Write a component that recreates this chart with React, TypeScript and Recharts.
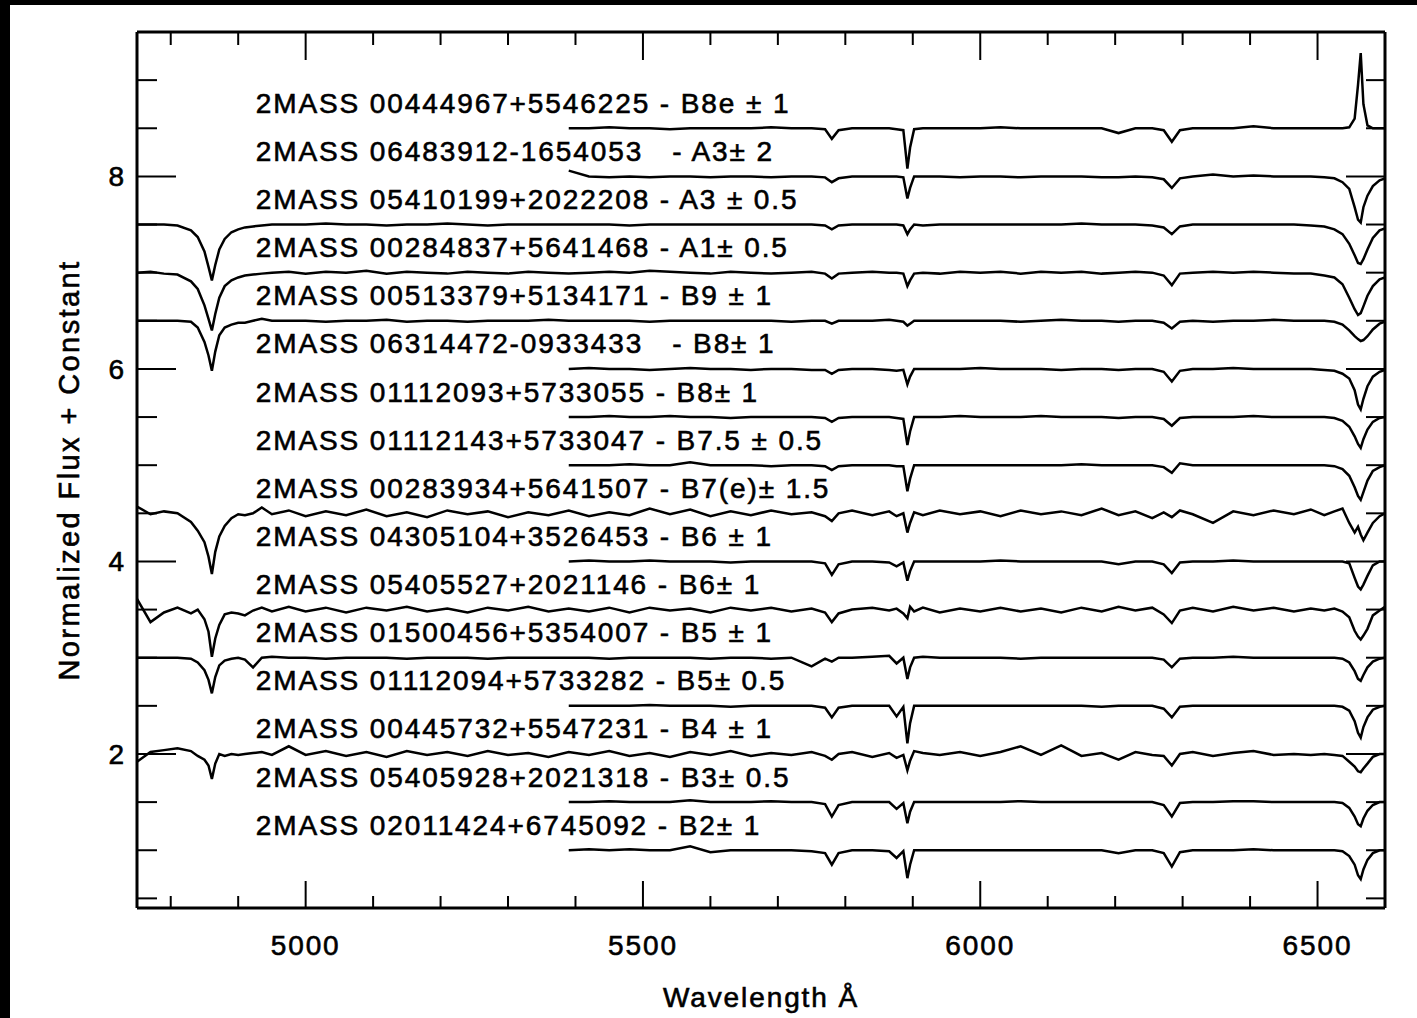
import { ComposedChart, Line, Scatter, XAxis, YAxis } from "recharts";
import { ReactElement } from "react";

// wavelength grid (Angstrom), denser around H-beta, Na D and H-alpha
const wavelengths = [
  4750, 4770, 4790, 4810, 4830, 4840, 4850, 4856, 4861, 4866,
  4872, 4880, 4890, 4900, 4910, 4922, 4935, 4950, 4975, 5000,
  5030, 5060, 5090, 5120, 5150, 5180, 5210, 5240, 5270, 5300,
  5330, 5360, 5390, 5420, 5450, 5480, 5510, 5540, 5570, 5600,
  5630, 5660, 5690, 5720, 5750, 5770, 5780, 5790, 5810, 5840,
  5865, 5876, 5886, 5892, 5896, 5902, 5915, 5940, 5970, 6000,
  6030, 6060, 6090, 6120, 6150, 6180, 6205, 6230, 6255, 6272,
  6284, 6296, 6315, 6345, 6375, 6405, 6435, 6465, 6490, 6510,
  6525, 6537, 6547, 6555, 6560, 6564, 6568, 6574, 6582, 6592,
  6600,
];

// normalized flux; short arrays start at 5390 A
const fluxB8e = [
  1.0, 1.0, 1.01, 1.0, 1.0, 0.99, 1.0, 1.0,
  1.0, 1.0, 1.01, 1.0, 1.0, 0.99, 0.89, 0.98, 1.0, 1.0,
  1.0, 0.99, 0.98, 0.58, 0.8, 0.99, 1.0, 1.0, 1.0, 1.0,
  1.01, 1.0, 1.0, 1.0, 1.0, 1.0, 0.95, 1.0, 1.0, 0.98,
  0.86, 0.98, 1.0, 1.0, 1.0, 1.02, 1.0, 1.0, 1.0, 1.0,
  1.0, 1.0, 1.01, 1.1, 1.45, 1.78, 1.25, 1.03, 1.0, 1.0,
  1.0,
];
const fluxA3a = [
  1.06, 1.0, 0.99, 1.0, 0.99, 1.0, 1.0, 0.99,
  1.0, 1.0, 0.99, 1.0, 1.0, 0.99, 0.94, 0.98, 1.0, 1.0,
  1.0, 1.0, 0.99, 0.77, 0.88, 1.0, 1.0, 1.0, 0.99, 1.0,
  1.0, 0.99, 1.0, 1.0, 1.0, 0.99, 0.99, 1.0, 0.99, 0.97,
  0.88, 0.98, 1.0, 1.02, 1.0, 1.01, 1.0, 1.0, 1.0, 0.99,
  0.98, 0.94, 0.87, 0.68, 0.55, 0.52, 0.68, 0.8, 0.9, 0.96,
  0.98,
];
const fluxA3b = [
  1.0, 1.0, 1.0, 0.99, 0.94, 0.87, 0.72, 0.56, 0.42, 0.58,
  0.74, 0.85, 0.92, 0.95, 0.97, 0.98, 0.99, 1.0, 1.0, 1.0,
  1.01, 1.0, 1.0, 0.99, 1.0, 1.0, 1.01, 1.0, 0.99, 1.0,
  1.0, 1.0, 1.0, 1.0, 1.0, 0.99, 1.0, 1.0, 1.0, 1.0,
  1.0, 1.0, 1.0, 1.0, 1.0, 0.99, 0.95, 0.99, 1.0, 1.0,
  1.0, 1.0, 0.99, 0.9, 0.95, 1.0, 0.99, 1.0, 1.0, 1.0,
  1.0, 1.0, 1.0, 1.0, 1.01, 1.0, 1.0, 1.0, 0.99, 0.97,
  0.9, 0.98, 1.0, 1.0, 1.0, 1.0, 1.0, 1.0, 0.99, 0.98,
  0.95, 0.9, 0.8, 0.68, 0.6, 0.59, 0.64, 0.74, 0.86, 0.94,
  0.96,
];
const fluxA1 = [
  1.0, 1.01, 0.99, 0.98, 0.91, 0.83, 0.66, 0.52, 0.4, 0.57,
  0.74, 0.86, 0.92, 0.95, 0.97, 0.98, 0.99, 1.0, 1.01, 0.99,
  1.01, 1.0, 1.02, 0.99, 1.01, 1.0, 0.99, 1.01, 1.0, 0.99,
  1.01, 1.0, 0.99, 1.0, 1.01, 1.0, 1.02, 1.01, 1.0, 0.99,
  1.01, 1.0, 0.99, 1.0, 1.01, 0.99, 0.94, 0.99, 1.0, 1.01,
  1.0, 1.0, 0.99, 0.86, 0.92, 0.99, 1.0, 0.99, 1.01, 1.0,
  1.01, 0.99, 1.01, 1.0, 1.01, 0.99, 1.0, 1.01, 1.0, 0.97,
  0.87, 0.99, 1.0, 1.01, 1.0, 1.01, 1.0, 0.99, 0.99, 0.97,
  0.95, 0.88, 0.74, 0.62, 0.56, 0.58, 0.65, 0.76, 0.86, 0.93,
  0.95,
];
const fluxB9 = [
  1.0, 1.0, 1.0, 1.0, 0.99, 0.93, 0.78, 0.64, 0.48, 0.68,
  0.85, 0.93, 0.96, 0.98, 0.98, 1.0, 1.02, 1.0, 1.0, 1.0,
  0.99, 1.0, 1.0, 1.01, 0.99, 1.0, 1.0, 0.99, 1.0, 1.0,
  1.0, 1.01, 1.0, 1.0, 1.0, 1.0, 0.99, 1.0, 1.0, 1.0,
  1.0, 1.0, 1.0, 0.99, 1.0, 1.0, 0.97, 1.0, 1.0, 1.0,
  1.01, 1.0, 0.99, 0.95, 0.97, 1.0, 1.0, 1.0, 1.0, 1.0,
  1.0, 0.99, 1.0, 1.01, 1.0, 1.0, 0.99, 1.0, 1.0, 0.98,
  0.92, 0.99, 1.0, 0.99, 1.0, 1.0, 1.01, 1.0, 1.0, 1.0,
  0.99, 0.96, 0.9, 0.84, 0.81, 0.79, 0.8, 0.84, 0.91, 0.97,
  0.99,
];
const fluxB8a = [
  1.0, 1.01, 1.0, 1.0, 0.99, 1.0, 1.01, 1.0,
  1.0, 0.99, 1.0, 1.0, 0.99, 0.99, 0.95, 0.99, 1.0, 1.0,
  0.99, 0.98, 0.99, 0.84, 0.92, 1.0, 1.0, 1.0, 1.0, 1.01,
  1.0, 1.0, 1.0, 0.99, 1.0, 1.0, 0.99, 1.0, 1.0, 0.97,
  0.87, 0.98, 1.0, 1.0, 1.01, 1.0, 1.0, 1.0, 1.0, 0.99,
  0.98, 0.95, 0.9, 0.78, 0.63, 0.58, 0.69, 0.82, 0.92, 0.97,
  0.99,
];
const fluxB8b = [
  1.0, 1.0, 1.01, 1.0, 1.0, 1.01, 1.0, 1.0,
  0.99, 1.0, 1.0, 1.0, 1.0, 0.99, 0.95, 0.99, 1.0, 1.0,
  1.0, 0.99, 0.98, 0.71, 0.85, 1.0, 1.0, 1.0, 1.01, 1.0,
  1.0, 1.0, 1.01, 1.0, 1.0, 1.0, 0.99, 1.0, 1.0, 0.98,
  0.91, 0.99, 1.0, 1.0, 1.0, 1.01, 1.0, 1.0, 1.0, 1.0,
  0.99, 0.96, 0.9, 0.8, 0.72, 0.68, 0.77, 0.87, 0.95, 0.99,
  1.0,
];
const fluxB75 = [
  1.0, 1.0, 1.0, 1.01, 1.0, 1.0, 1.03, 1.0,
  1.0, 1.0, 0.99, 1.0, 1.0, 0.99, 0.95, 0.99, 1.0, 1.0,
  1.0, 0.99, 0.99, 0.73, 0.86, 1.0, 1.0, 1.0, 1.0, 1.0,
  1.0, 1.0, 1.0, 1.0, 1.01, 1.0, 1.0, 1.0, 1.0, 0.98,
  0.92, 1.02, 1.0, 1.0, 1.0, 1.0, 1.0, 1.0, 1.0, 1.0,
  0.99, 0.96, 0.89, 0.77, 0.68, 0.64, 0.72, 0.84, 0.94, 0.98,
  1.0,
];
const fluxB7e = [
  1.07, 0.99, 1.02, 1.0, 0.91, 0.82, 0.7, 0.55, 0.37, 0.6,
  0.76, 0.87, 0.95, 0.99, 0.98, 1.0, 1.06, 0.99, 1.03, 0.97,
  1.02, 0.98, 1.04, 0.97, 1.01, 0.96, 1.03, 0.99, 1.02, 0.96,
  1.01, 0.98, 1.03, 0.97, 1.01, 0.98, 1.05, 0.99, 1.04, 0.97,
  1.02, 0.98, 1.03, 0.99, 1.01, 0.97, 0.92, 1.0, 1.03, 0.98,
  1.02, 0.97, 1.0, 0.8, 0.9, 1.01, 0.98, 1.03, 0.99, 1.02,
  0.97, 1.03, 0.99, 1.02, 0.98, 1.05, 0.98, 1.02, 0.95, 1.01,
  0.96, 1.03, 0.99, 0.9, 1.02, 0.98, 1.03, 0.99, 1.04, 0.98,
  1.02, 1.05, 0.9, 0.8, 0.86, 0.78, 0.72, 0.8, 0.9, 0.97,
  1.0,
];
const fluxB6a = [
  1.0, 1.01, 1.0, 1.0, 1.01, 1.0, 1.0, 1.0,
  0.99, 1.0, 1.0, 1.0, 1.0, 0.98, 0.86, 0.97, 1.0, 1.0,
  0.99, 0.95, 0.99, 0.8, 0.9, 1.0, 1.0, 1.0, 1.0, 1.0,
  1.01, 1.0, 1.0, 1.0, 1.0, 1.0, 0.97, 1.0, 1.0, 0.97,
  0.88, 0.99, 1.0, 1.0, 1.01, 1.0, 1.0, 1.0, 1.0, 1.0,
  1.0, 1.0, 0.98, 0.83, 0.74, 0.71, 0.76, 0.85, 0.96, 1.0,
  1.0,
];
const fluxB6b = [
  1.11, 0.87, 0.97, 1.02, 0.96, 1.0, 0.9, 0.77, 0.51, 0.7,
  0.84, 0.95, 0.97, 0.96, 0.94, 0.99, 1.02, 0.98, 1.03, 0.98,
  1.02, 0.97, 1.02, 0.99, 1.03, 0.98, 1.01, 0.97, 1.02, 0.99,
  1.03, 0.98, 1.01, 0.98, 1.02, 0.97, 1.02, 0.99, 1.01, 0.97,
  1.02, 0.99, 1.02, 0.98, 1.01, 0.97, 0.87, 0.96, 1.0, 1.02,
  0.99, 1.01, 0.96, 0.91, 1.03, 0.98, 1.02, 0.97, 1.01, 0.98,
  1.02, 0.98, 1.01, 0.97, 1.02, 0.98, 1.03, 0.99, 1.02, 0.95,
  0.86, 0.99, 1.02, 0.98, 1.03, 0.99, 1.02, 0.98, 1.01, 0.99,
  1.01, 0.98, 0.92, 0.78, 0.72, 0.69, 0.73, 0.8, 0.94, 0.99,
  1.03,
];
const fluxB5a = [
  1.0, 1.0, 1.0, 1.0, 0.99, 0.95, 0.87, 0.77, 0.63, 0.8,
  0.92, 0.97, 0.99, 1.0, 0.98, 0.9, 1.0, 1.01, 1.0, 1.0,
  0.99, 1.0, 1.0, 1.0, 0.99, 1.0, 1.0, 1.0, 0.99, 1.0,
  1.0, 1.0, 1.0, 1.0, 0.99, 1.0, 1.0, 1.0, 1.0, 0.99,
  1.0, 1.0, 0.99, 1.0, 0.91, 0.99, 0.96, 1.0, 1.0, 1.01,
  1.02, 0.94, 1.0, 0.78, 0.9, 1.0, 1.01, 1.0, 1.0, 1.0,
  1.0, 0.99, 1.0, 1.0, 1.0, 1.0, 1.0, 1.0, 1.0, 0.98,
  0.9, 0.99, 1.0, 1.0, 1.01, 1.0, 1.0, 1.0, 1.0, 1.0,
  1.0, 0.99, 0.95, 0.86, 0.78, 0.76, 0.82, 0.9, 0.96, 0.99,
  1.0,
];
const fluxB5b = [
  1.0, 1.0, 1.0, 1.0, 1.01, 1.0, 1.0, 1.0,
  0.99, 1.0, 1.0, 1.0, 1.0, 0.98, 0.88, 0.98, 1.0, 1.0,
  1.0, 0.89, 0.99, 0.61, 0.82, 1.0, 1.0, 1.0, 1.0, 1.0,
  1.0, 1.0, 1.0, 1.0, 1.0, 0.99, 1.0, 1.0, 1.0, 0.97,
  0.88, 0.99, 1.0, 1.0, 1.0, 1.0, 1.0, 1.0, 1.0, 1.0,
  1.0, 0.99, 0.95, 0.84, 0.72, 0.67, 0.78, 0.88, 0.96, 0.99,
  1.0,
];
const fluxB4 = [
  0.92, 1.02, 1.04, 1.06, 1.03, 0.98, 0.94, 0.88, 0.74, 0.9,
  1.0, 0.98, 1.0, 0.99, 1.0, 1.01, 1.02, 0.99, 1.08, 0.99,
  1.03, 0.98, 1.02, 0.97, 1.03, 0.99, 1.02, 0.98, 1.03, 0.99,
  1.01, 0.97, 1.02, 0.99, 1.03, 0.98, 1.01, 0.97, 1.02, 0.99,
  1.03, 0.98, 1.01, 0.99, 1.02, 0.98, 0.94, 1.0, 1.02, 0.97,
  1.01, 0.96, 0.99, 0.83, 0.93, 1.03, 1.01, 0.99, 1.02, 0.98,
  1.02, 1.08, 0.99, 1.09, 0.98, 1.01, 0.94, 1.02, 0.99, 0.98,
  0.88, 1.0, 1.02, 0.98, 1.01, 1.03, 0.99, 1.0, 0.99, 1.0,
  0.99, 0.98, 0.92, 0.87, 0.82, 0.81, 0.85, 0.9, 0.97, 1.0,
  1.0,
];
const fluxB3 = [
  1.0, 1.0, 1.01, 1.0, 1.0, 1.0, 1.02, 1.0,
  1.0, 1.0, 1.01, 1.0, 1.0, 0.98, 0.85, 0.97, 1.0, 1.0,
  1.0, 0.93, 0.99, 0.78, 0.9, 1.0, 1.0, 1.0, 1.0, 1.0,
  1.0, 1.01, 1.0, 1.0, 1.0, 1.0, 1.0, 1.0, 1.0, 0.97,
  0.85, 0.99, 1.0, 1.0, 1.01, 1.01, 1.0, 1.0, 1.0, 1.0,
  1.0, 0.99, 0.94, 0.85, 0.77, 0.75, 0.83, 0.91, 0.97, 1.0,
  1.0,
];
const fluxB2 = [
  1.0, 1.01, 1.0, 1.01, 1.0, 1.0, 1.04, 0.98,
  1.0, 1.0, 1.0, 1.0, 0.99, 0.97, 0.85, 0.97, 1.0, 1.0,
  0.99, 0.92, 0.99, 0.71, 0.85, 1.0, 1.0, 1.0, 1.0, 1.0,
  1.0, 1.0, 1.0, 1.0, 1.0, 1.0, 0.97, 1.0, 1.0, 0.97,
  0.83, 0.98, 1.0, 1.0, 1.0, 1.01, 1.0, 1.0, 1.0, 1.0,
  1.0, 0.99, 0.94, 0.85, 0.74, 0.7, 0.8, 0.9, 0.97, 1.0,
  1.0,
];

const spectra = [
  fluxB8e, fluxA3a, fluxA3b, fluxA1, fluxB9, fluxB8a, fluxB8b, fluxB75,
  fluxB7e, fluxB6a, fluxB6b, fluxB5a, fluxB5b, fluxB4, fluxB3, fluxB2,
];

// constant added to each normalized spectrum
const offsets = [7.5, 7.0, 6.5, 6.0, 5.5, 5.0, 4.5, 4.0, 3.5, 3.0, 2.5, 2.0, 1.5, 1.0, 0.5, 0.0];

const labels = [
  "2MASS 00444967+5546225 - B8e ± 1",
  "2MASS 06483912-1654053   - A3± 2",
  "2MASS 05410199+2022208 - A3 ± 0.5",
  "2MASS 00284837+5641468 - A1± 0.5",
  "2MASS 00513379+5134171 - B9 ± 1",
  "2MASS 06314472-0933433   - B8± 1",
  "2MASS 01112093+5733055 - B8± 1",
  "2MASS 01112143+5733047 - B7.5 ± 0.5",
  "2MASS 00283934+5641507 - B7(e)± 1.5",
  "2MASS 04305104+3526453 - B6 ± 1",
  "2MASS 05405527+2021146 - B6± 1",
  "2MASS 01500456+5354007 - B5 ± 1",
  "2MASS 01112094+5733282 - B5± 0.5",
  "2MASS 00445732+5547231 - B4 ± 1",
  "2MASS 05405928+2021318 - B3± 0.5",
  "2MASS 02011424+6745092 - B2± 1",
];

const xTicks = [4800, 4900, 5000, 5100, 5200, 5300, 5400, 5500, 5600, 5700, 5800, 5900, 6000, 6100, 6200, 6300, 6400, 6500];
const xMajor = [5000, 5500, 6000, 6500];
const yTicks = [0.5, 1, 1.5, 2, 2.5, 3, 3.5, 4, 4.5, 5, 5.5, 6, 6.5, 7, 7.5, 8, 8.5, 9];
const yMajor = [2, 4, 6, 8];

const X_DOMAIN: [number, number] = [4750, 6600];
const Y_DOMAIN: [number, number] = [0.4, 9.5];
const LABEL_WAVE = 4926;
const LABEL_LIFT = 0.26;

const FONT = "'Liberation Sans', Arial, Helvetica, sans-serif";
const textStyle = {
  fontFamily: FONT,
  fontSize: 28,
  letterSpacing: 1.9,
  fill: "#000",
  stroke: "#000",
  strokeWidth: 0.6,
};
const yTitleStyle = { ...textStyle, fontSize: 29, letterSpacing: 2.4 };

const rows = wavelengths.map((w, i) => {
  const row: Record<string, number | null> = { w };
  spectra.forEach((flux, k) => {
    const start = wavelengths.length - flux.length;
    row[`s${k}`] = i >= start ? flux[i - start] + offsets[k] : null;
  });
  return row;
});

const labelRows = labels.map((text, k) => ({ w: LABEL_WAVE, y: offsets[k] + 1 + LABEL_LIFT, text }));

function BottomTick(props: any) {
  const { x, y, payload } = props;
  const major = xMajor.includes(payload.value);
  return (
    <g>
      <line x1={x} y1={y} x2={x} y2={y - (major ? 27 : 12)} stroke="#000" strokeWidth={2} />
      {major && (
        <text x={x} y={y + 47} textAnchor="middle" style={textStyle}>
          {payload.value}
        </text>
      )}
    </g>
  );
}

function TopTick(props: any) {
  const { x, y, payload } = props;
  const major = xMajor.includes(payload.value);
  return <line x1={x} y1={y} x2={x} y2={y + (major ? 28 : 13)} stroke="#000" strokeWidth={2} />;
}

function LeftTick(props: any) {
  const { x, y, payload } = props;
  const major = yMajor.includes(payload.value);
  return (
    <g>
      <line x1={x} y1={y} x2={x + (major ? 39 : 20)} y2={y} stroke="#000" strokeWidth={2} />
      {major && (
        <text x={x - 11} y={y + 10} textAnchor="end" style={textStyle}>
          {payload.value}
        </text>
      )}
    </g>
  );
}

function RightTick(props: any) {
  const { x, y, payload } = props;
  const major = yMajor.includes(payload.value);
  return <line x1={x} y1={y} x2={x - (major ? 39 : 19)} y2={y} stroke="#000" strokeWidth={2} />;
}

function SpectrumLabel(props: any) {
  const { cx, cy, payload } = props;
  return (
    <text x={cx} y={cy} dominantBaseline="central" style={{ ...textStyle, whiteSpace: "pre" }}>
      {payload.text}
    </text>
  );
}

export default function App(): ReactElement {
  const axisLine = { stroke: "#000", strokeWidth: 3 };
  return (
    <div style={{ position: "absolute", left: 0, top: 0, width: 1417, height: 1018, background: "#fff", overflow: "hidden" }}>
      <ComposedChart
        width={1417}
        height={1018}
        data={rows}
        margin={{ top: 30, right: 30, bottom: 0, left: 1 }}
      >
        <XAxis
          xAxisId="b"
          dataKey="w"
          type="number"
          domain={X_DOMAIN}
          allowDataOverflow
          ticks={xTicks}
          interval={0}
          tick={<BottomTick />}
          tickLine={false}
          tickSize={0}
          tickMargin={0}
          axisLine={axisLine}
          height={110}
          label={{ value: "Wavelength Å", position: "insideBottom", offset: 11, style: textStyle }}
        />
        <XAxis
          xAxisId="t"
          orientation="top"
          dataKey="w"
          type="number"
          domain={X_DOMAIN}
          allowDataOverflow
          ticks={xTicks}
          interval={0}
          tick={<TopTick />}
          tickLine={false}
          tickSize={0}
          tickMargin={0}
          axisLine={axisLine}
          height={2}
        />
        <YAxis
          yAxisId="l"
          type="number"
          domain={Y_DOMAIN}
          allowDataOverflow
          ticks={yTicks}
          interval={0}
          tick={<LeftTick />}
          tickLine={false}
          tickSize={0}
          tickMargin={0}
          axisLine={axisLine}
          width={136}
          label={{ value: "Normalized Flux + Constant", angle: -90, position: "center", style: yTitleStyle }}
        />
        <YAxis
          yAxisId="r"
          orientation="right"
          dataKey="y"
          type="number"
          domain={Y_DOMAIN}
          allowDataOverflow
          ticks={yTicks}
          interval={0}
          tick={<RightTick />}
          tickLine={false}
          tickSize={0}
          tickMargin={0}
          axisLine={axisLine}
          width={2}
        />
        {spectra.map((_, k) => (
          <Line
            key={k}
            xAxisId="b"
            yAxisId="l"
            type="linear"
            dataKey={`s${k}`}
            stroke="#000"
            strokeWidth={2.5}
            dot={false}
            activeDot={false}
            connectNulls={false}
            isAnimationActive={false}
          />
        ))}
        <Scatter
          xAxisId="t"
          yAxisId="r"
          data={labelRows}
          dataKey="y"
          shape={<SpectrumLabel />}
          isAnimationActive={false}
        />
      </ComposedChart>
      <div style={{ position: "absolute", left: 0, top: 0, width: 1417, height: 5, background: "#000" }} />
      <div style={{ position: "absolute", left: 0, top: 0, width: 10, height: 1018, background: "#000" }} />
    </div>
  );
}
